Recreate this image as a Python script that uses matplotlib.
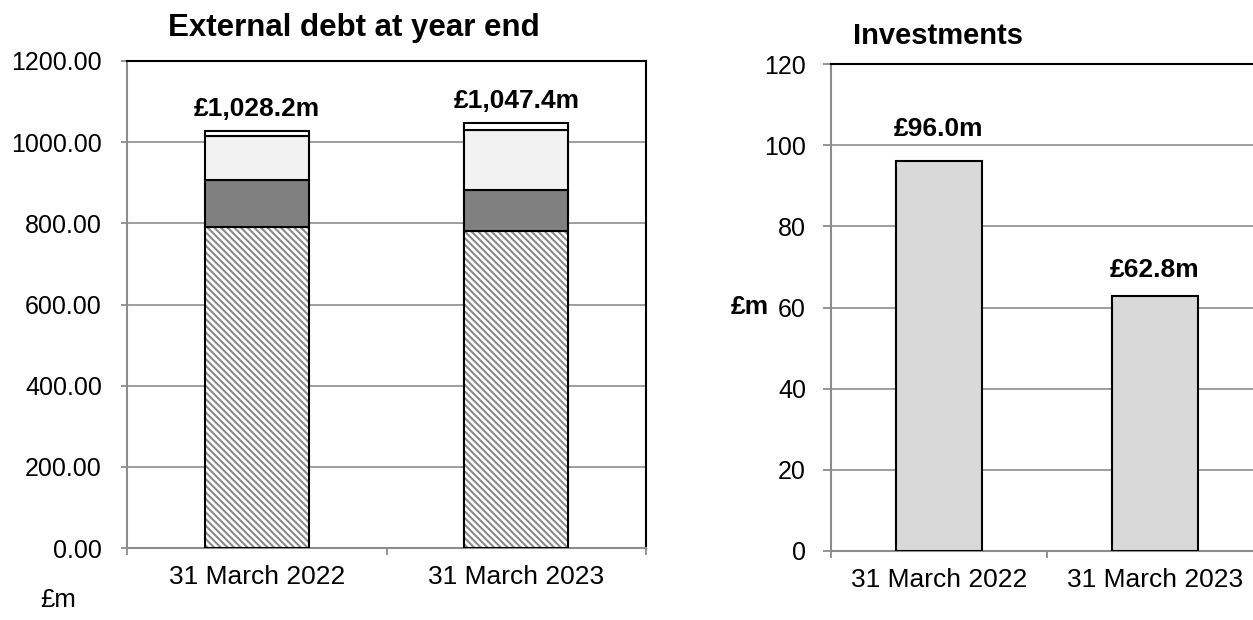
import matplotlib.pyplot as plt
import numpy as np

plt.rcParams['font.family'] = ['Liberation Sans', 'DejaVu Sans']
plt.rcParams['hatch.linewidth'] = 1.5

# Data
dates = ['31 March 2022', '31 March 2023']
debt_hatched = [792, 780]
debt_dark = [114, 103]
debt_light = [110, 148]
debt_white = [12.2, 16.4]
debt_totals = ['£1,028.2m', '£1,047.4m']

investments = [96.0, 62.8]
inv_labels = ['£96.0m', '£62.8m']

grid_col = '#8c8c8c'

fig = plt.figure(figsize=(12.53, 6.2), dpi=100)

# ---- left: external debt ----
ax1 = fig.add_axes([127 / 1253, 72 / 620, 519 / 1253, 487 / 620])
x = np.arange(len(dates))
w = 0.4
kw = dict(width=w, edgecolor='black', linewidth=1.5, zorder=3)
# hatched base: draw hatch in gray, then black outline on top
ax1.bar(x, debt_hatched, width=w, color='white', edgecolor='#8a8a8a', linewidth=0,
        hatch='\\\\\\\\\\', zorder=3)
ax1.bar(x, debt_hatched, fill=False, **kw)
b = np.array(debt_hatched, dtype=float)
ax1.bar(x, debt_dark, bottom=b, color='#808080', **kw)
b += debt_dark
ax1.bar(x, debt_light, bottom=b, color='#f2f2f2', **kw)
b += debt_light
ax1.bar(x, debt_white, bottom=b, color='white', **kw)
b += debt_white

for xi, top, lab in zip(x, b, debt_totals):
    ax1.annotate(lab, (xi, top), xytext=(0, 7), textcoords='offset points',
                 ha='center', va='bottom', fontsize=19, fontweight='bold')

ax1.set_xlim(-0.5, 1.5)
ax1.set_ylim(0, 1200)
ax1.set_yticks(np.arange(0, 1201, 200))
ax1.set_yticklabels([f'{v:.2f}' for v in np.arange(0, 1201, 200)])
ax1.set_xticks(x)
ax1.set_xticklabels(dates)
ax1.set_xticks([-0.5, 0.5, 1.5], minor=True)
ax1.tick_params(axis='x', which='major', length=0, pad=12, labelsize=19)
ax1.tick_params(axis='x', which='minor', length=5, color=grid_col, width=1.3)
ax1.tick_params(axis='y', length=4.5, color=grid_col, width=1.3, labelsize=18, pad=13.5)
ax1.yaxis.grid(True, color=grid_col, linewidth=1.2, zorder=0)
ax1.set_axisbelow(True)
for s in ['left', 'bottom']:
    ax1.spines[s].set_color(grid_col)
    ax1.spines[s].set_linewidth(1.5)
for s in ['top', 'right']:
    ax1.spines[s].set_color('black')
    ax1.spines[s].set_linewidth(1.5)

fig.text(354 / 1253, 1 - 28 / 620, 'External debt at year end', ha='center', va='center',
         fontsize=22.5, fontweight='bold')
fig.text(58 / 1253, 1 - 600 / 620, '£m', ha='center', va='center', fontsize=18.5)

# ---- right: investments ----
ax2 = fig.add_axes([831 / 1253, 69 / 620, 432 / 1253, 487 / 620])
ax2.bar(x, investments, width=w, color='#d9d9d9', edgecolor='black', linewidth=1.5, zorder=3)
offsets = [15, 10]
for xi, v, lab, off in zip(x, investments, inv_labels, offsets):
    ax2.annotate(lab, (xi, v), xytext=(0, off), textcoords='offset points',
                 ha='center', va='bottom', fontsize=19, fontweight='bold')
ax2.set_xlim(-0.5, 1.5)
ax2.set_ylim(0, 120)
ax2.set_yticks(np.arange(0, 121, 20))
ax2.set_xticks(x)
ax2.set_xticklabels(dates)
ax2.set_xticks([-0.5, 0.5, 1.5], minor=True)
ax2.tick_params(axis='x', which='major', length=0, pad=12, labelsize=19)
ax2.tick_params(axis='x', which='minor', length=5, color=grid_col, width=1.3)
ax2.tick_params(axis='y', length=5.5, color=grid_col, width=1.3, labelsize=18, pad=12.5)
ax2.yaxis.grid(True, color=grid_col, linewidth=1.2, zorder=0)
ax2.set_axisbelow(True)
for s in ['left', 'bottom']:
    ax2.spines[s].set_color(grid_col)
    ax2.spines[s].set_linewidth(1.5)
ax2.spines['top'].set_color('black')
ax2.spines['top'].set_linewidth(1.5)
ax2.set_ylabel('£m', rotation=0, fontsize=19, fontweight='bold', va='center', labelpad=10)

fig.text(938 / 1253, 1 - 36 / 620, 'Investments', ha='center', va='center',
         fontsize=21, fontweight='bold')

fig.savefig('out.png', dpi=100)
